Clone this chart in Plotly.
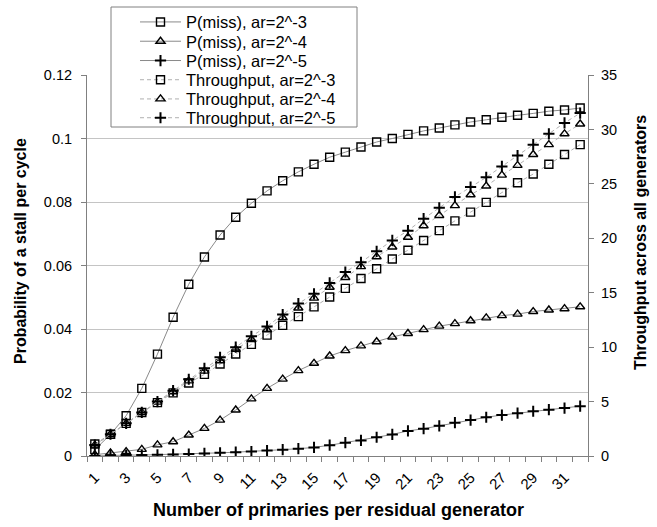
import plotly.graph_objects as go

# ---------------- data ----------------
primaries = list(range(1, 33))

pmiss_ar3 = [0.0020, 0.0068, 0.0127, 0.0213, 0.0321, 0.0437, 0.0541, 0.0627,
             0.0696, 0.0752, 0.0796, 0.0835, 0.0867, 0.0895, 0.0919, 0.0941,
             0.0957, 0.0973, 0.0989, 0.1000, 0.1013, 0.1024, 0.1033, 0.1043,
             0.1052, 0.1059, 0.1067, 0.1073, 0.1079, 0.1086, 0.1090, 0.1096]
pmiss_ar4 = [0.0004, 0.0010, 0.0014, 0.0021, 0.0035, 0.0045, 0.0066, 0.0087,
             0.0113, 0.0145, 0.0180, 0.0213, 0.0242, 0.0269, 0.0292, 0.0315,
             0.0332, 0.0347, 0.0360, 0.0375, 0.0386, 0.0398, 0.0409, 0.0417,
             0.0426, 0.0435, 0.0442, 0.0447, 0.0455, 0.0460, 0.0464, 0.0470]
pmiss_ar5 = [0.0000, 0.0002, 0.0003, 0.0003, 0.0004, 0.0005, 0.0006, 0.0008,
             0.0010, 0.0012, 0.0014, 0.0017, 0.0020, 0.0023, 0.0027, 0.0034,
             0.0042, 0.0049, 0.0059, 0.0068, 0.0079, 0.0086, 0.0095, 0.0105,
             0.0113, 0.0122, 0.0129, 0.0135, 0.0141, 0.0146, 0.0151, 0.0157]

thr_ar3 = [1.1, 2.0, 3.0, 4.0, 4.9, 5.8, 6.7, 7.5, 8.45, 9.37, 10.25, 11.1,
           12.0, 12.8, 13.7, 14.6, 15.4, 16.3, 17.2, 18.1, 18.9, 19.8, 20.7,
           21.6, 22.4, 23.3, 24.2, 25.1, 25.9, 26.8, 27.7, 28.6]
thr_ar4 = [1.0, 2.0, 3.0, 4.0, 4.95, 5.9, 6.9, 7.8, 8.75, 9.8, 10.7, 11.6,
           12.7, 13.6, 14.5, 15.5, 16.4, 17.4, 18.3, 19.2, 20.1, 21.15, 22.1,
           23.0, 24.0, 24.8, 25.8, 26.7, 27.7, 28.6, 29.6, 30.5]
thr_ar5 = [1.0, 2.0, 3.0, 4.0, 5.0, 6.0, 7.05, 8.05, 9.07, 10.0, 11.0, 11.9,
           13.0, 14.0, 14.9, 15.9, 16.9, 17.8, 18.8, 19.8, 20.7, 21.8, 22.8,
           23.8, 24.7, 25.6, 26.6, 27.6, 28.6, 29.6, 30.6, 31.5]

series_names = ["P(miss), ar=2^-3", "P(miss), ar=2^-4", "P(miss), ar=2^-5",
                "Throughput, ar=2^-3", "Throughput, ar=2^-4", "Throughput, ar=2^-5"]

x_tickvals = list(range(1, 32, 2))
x_ticktext = [str(v) for v in x_tickvals]
yl_tickvals = [0, 0.02, 0.04, 0.06, 0.08, 0.1, 0.12]
yl_ticktext = ["0", "0.02", "0.04", "0.06", "0.08", "0.1", "0.12"]
yr_tickvals = [0, 5, 10, 15, 20, 25, 30, 35]
yr_ticktext = [str(v) for v in yr_tickvals]

x_title = "Number of primaries per residual generator"
yl_title = "Probability of a stall per cycle"
yr_title = "Throughput across all generators"

# ---------------- figure ----------------
FONT = "Arial, Liberation Sans, sans-serif"
# plot area in pixels
L, R, T, B = 87, 588, 75, 456
W, H = R - L, B - T

def px_x(p):
    return (p - L) / W

def px_y(p):
    return (B - p) / H

fig = go.Figure()

symbols = ["square-open", "triangle-up-open", "cross-thin"]
sizes = [8, 8, 8]
widths = [1.4, 1.4, 2.0]
pm = [pmiss_ar3, pmiss_ar4, pmiss_ar5]
th = [thr_ar3, thr_ar4, thr_ar5]

legend_ids = ["legend2", "legend3", "legend4", "legend5", "legend6", "legend7"]

for i in range(3):
    fig.add_trace(go.Scatter(
        x=primaries, y=pm[i], name=series_names[i], yaxis="y",
        mode="lines+markers", legend=legend_ids[i],
        line=dict(color="#8a8a8a", width=1),
        marker=dict(symbol=symbols[i], size=sizes[i], color="black",
                    line=dict(color="black", width=widths[i])),
    ))
for i in range(3):
    fig.add_trace(go.Scatter(
        x=primaries, y=th[i], name=series_names[3 + i], yaxis="y2",
        mode="lines+markers", legend=legend_ids[3 + i],
        line=dict(color="#b0b0b0", width=1, dash="4px,3px"),
        marker=dict(symbol=symbols[i], size=sizes[i], color="black",
                    line=dict(color="black", width=widths[i])),
    ))

legend_rows = [22.2, 41.5, 60.8, 80.0, 99.2, 118.0]
legend_layout = {}
for k, lid in enumerate(legend_ids):
    legend_layout[lid] = dict(
        x=px_x(135), y=px_y(legend_rows[k]), xanchor="left", yanchor="middle",
        bgcolor="rgba(0,0,0,0)", borderwidth=0,
        font=dict(family=FONT, size=16.5, color="black"),
        itemwidth=41,
    )

fig.update_layout(
    width=657, height=527,
    margin=dict(l=L, r=657 - R, t=T, b=527 - B, autoexpand=False),
    paper_bgcolor="white", plot_bgcolor="white",
    font=dict(family=FONT, size=14, color="black"),
    showlegend=True,
    **legend_layout,
    shapes=[dict(type="rect", xref="paper", yref="paper",
                 x0=px_x(111), x1=px_x(357), y0=px_y(127), y1=px_y(7),
                 fillcolor="white", line=dict(color="#808080", width=1),
                 layer="above")],
    annotations=[
        dict(text="<b>" + x_title + "</b>", xref="paper", yref="paper",
             x=px_x(338), y=px_y(510), xanchor="center", yanchor="middle",
             showarrow=False, font=dict(size=18, color="black")),
        dict(text="<b>" + yl_title + "</b>", xref="paper", yref="paper",
             x=px_x(20), y=px_y(251), xanchor="center", yanchor="middle",
             textangle=-90, showarrow=False, font=dict(size=16, color="black")),
        dict(text="<b>" + yr_title + "</b>", xref="paper", yref="paper",
             x=px_x(640), y=px_y(243), xanchor="center", yanchor="middle",
             textangle=-90, showarrow=False, font=dict(size=16, color="black")),
    ],
    xaxis=dict(
        range=[0.5, 32.5], tickmode="array", tickvals=x_tickvals, ticktext=x_ticktext,
        tickangle=-45, ticks="", showgrid=False, zeroline=False, automargin=False,
        showline=True, linecolor="#808080", linewidth=1,
        tickfont=dict(size=15, color="black"), ticklabelstandoff=6,
        minor=dict(tickmode="linear", tick0=0.5, dtick=1, ticks="outside",
                   ticklen=5, tickcolor="#808080", showgrid=False),
    ),
    yaxis=dict(
        range=[0, 0.12], tickmode="array", tickvals=yl_tickvals, ticktext=yl_ticktext,
        showgrid=True, gridcolor="#c4c4c4", gridwidth=1, zeroline=False, automargin=False,
        showline=True, linecolor="#808080", linewidth=1,
        ticks="outside", ticklen=5, tickcolor="#808080",
        tickfont=dict(size=14.5, color="black"), ticklabelstandoff=6,
    ),
    yaxis2=dict(
        range=[0, 35], tickmode="array", tickvals=yr_tickvals, ticktext=yr_ticktext,
        overlaying="y", side="right", showgrid=False, zeroline=False, automargin=False,
        showline=True, linecolor="#808080", linewidth=1,
        ticks="outside", ticklen=5, tickcolor="#808080",
        tickfont=dict(size=14.5, color="black"), ticklabelstandoff=4,
    ),
)

fig.write_html("out.html", config={"displayModeBar": False},
               post_script="document.body.style.margin='0';document.body.style.overflow='hidden';")
